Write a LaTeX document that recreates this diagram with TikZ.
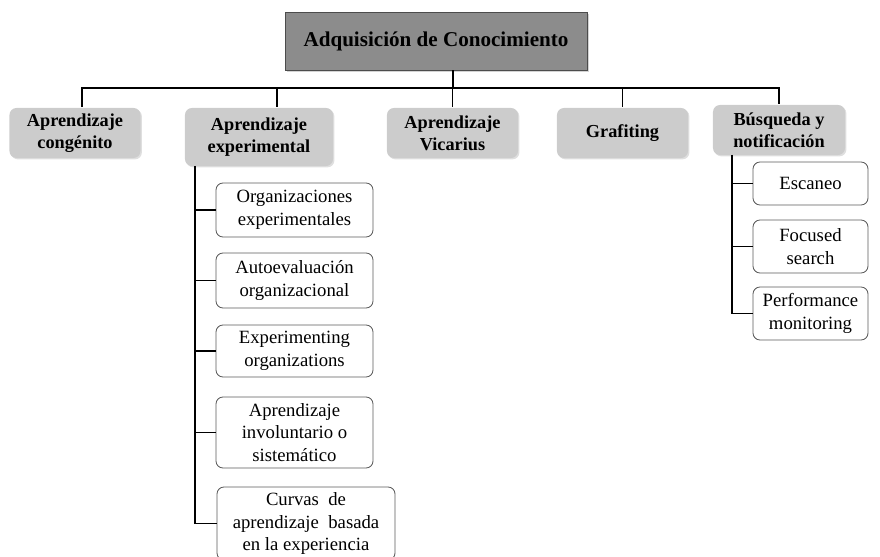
\documentclass[tikz,border=0pt]{standalone}
\usepackage{fontspec}
\setmainfont{Liberation Serif}
\usepackage{tikz}
\usetikzlibrary{positioning, shadows}
\definecolor{rootgray}{HTML}{8C8C8C}
\definecolor{topicgray}{HTML}{CCCCCC}
\definecolor{leafline}{HTML}{5A5A5A}
\tikzset{
    kmap/.style={x=0.025cm, y=-0.025cm, line width=1.4pt},
    rootbox/.style={draw=black!70, line width=0.6pt, fill=rootgray, minimum width=7.55cm, minimum height=1.45cm,
        font=\fontsize{15}{18}\selectfont\bfseries, drop shadow={opacity=0.35, shadow xshift=1.5pt, shadow yshift=-1.5pt}},
    topic/.style={draw=none, fill=topicgray, rounded corners=5pt, minimum width=3.275cm, minimum height=1.25cm,
        align=center, inner sep=2pt, font=\fontsize{13}{15.5}\selectfont\bfseries,
        drop shadow={opacity=0.25, shadow xshift=1pt, shadow yshift=-1pt}},
    leaf/.style={draw=leafline, line width=0.6pt, fill=white, rounded corners=5pt, minimum width=3.925cm,
        align=center, inner sep=2pt, font=\fontsize{13.3}{16}\selectfont},
    % short leaves on the right
    sleaf/.style={leaf, minimum width=2.875cm, minimum height=1.325cm},
}
\begin{document}
\begin{tikzpicture}[kmap]
    \useasboundingbox (0,0) rectangle (880,557);

    \node[rootbox] (root) at (436,41) {Adquisición de Conocimiento};

    \node[topic]                          (cong) at (75,133)    {Aprendizaje\\congénito};
    \node[topic, minimum width=3.7cm, minimum height=1.45cm] (exp) at (259,137) {Aprendizaje\\experimental};
    \node[topic]                          (vic)  at (452.5,133) {Aprendizaje\\Vicarius};
    \node[topic]                          (graf) at (622.5,133) {Grafiting};
    \node[topic, minimum width=3.3cm]     (busq) at (779,130)   {Búsqueda y\\notificación};

    \coordinate (bus) at (453,88);
    \coordinate (expspine) at (195,166);
    \coordinate (busqspine) at (732,155);

    % hojas de aprendizaje experimental
    \node[leaf, minimum height=1.35cm]  (org)  at (294.5,210)   {Organizaciones\\experimentales};
    \node[leaf, minimum height=1.375cm] (auto) at (294.5,280.5) {Autoevaluación\\organizacional};
    \node[leaf, minimum height=1.3cm]   (expo) at (294.5,351)   {Experimenting\\organizations};
    \node[leaf, minimum height=1.775cm] (invo) at (294.5,432.5) {Aprendizaje\\involuntario o\\sistemático};
    \node[leaf, minimum width=4.45cm, minimum height=1.825cm] (curv) at (306,523.5) {Curvas~ de\\aprendizaje~ basada\\en la experiencia};

    % hojas de busqueda
    \node[sleaf, minimum height=1.075cm] (esc)  at (810.5,183.5) {Escaneo};
    \node[sleaf]                         (foc)  at (810.5,246.5) {Focused\\search};
    \node[sleaf]                         (perf) at (810.5,313.5) {Performance\\monitoring};

    \draw (root.south -| bus) -- (bus);
    \draw ([xshift=0.175cm]cong.north) |- (busq.north |- bus) -- (busq.north);
    \draw ([xshift=0.45cm]exp.north |- bus) -- ([xshift=0.45cm]exp.north);
    \draw (vic.north |- bus) -- (vic.north);
    \draw (graf.north |- bus) -- (graf.north);

    \draw (expspine) |- (curv.west);
    \draw (org.west) -- (org.west -| expspine);
    \draw (auto.west) -- (auto.west -| expspine);
    \draw (expo.west) -- (expo.west -| expspine);
    \draw (invo.west) -- (invo.west -| expspine);

    \draw (busqspine) |- (perf.west);
    \draw (esc.west) -- (esc.west -| busqspine);
    \draw (foc.west) -- (foc.west -| busqspine);
\end{tikzpicture}
\end{document}
